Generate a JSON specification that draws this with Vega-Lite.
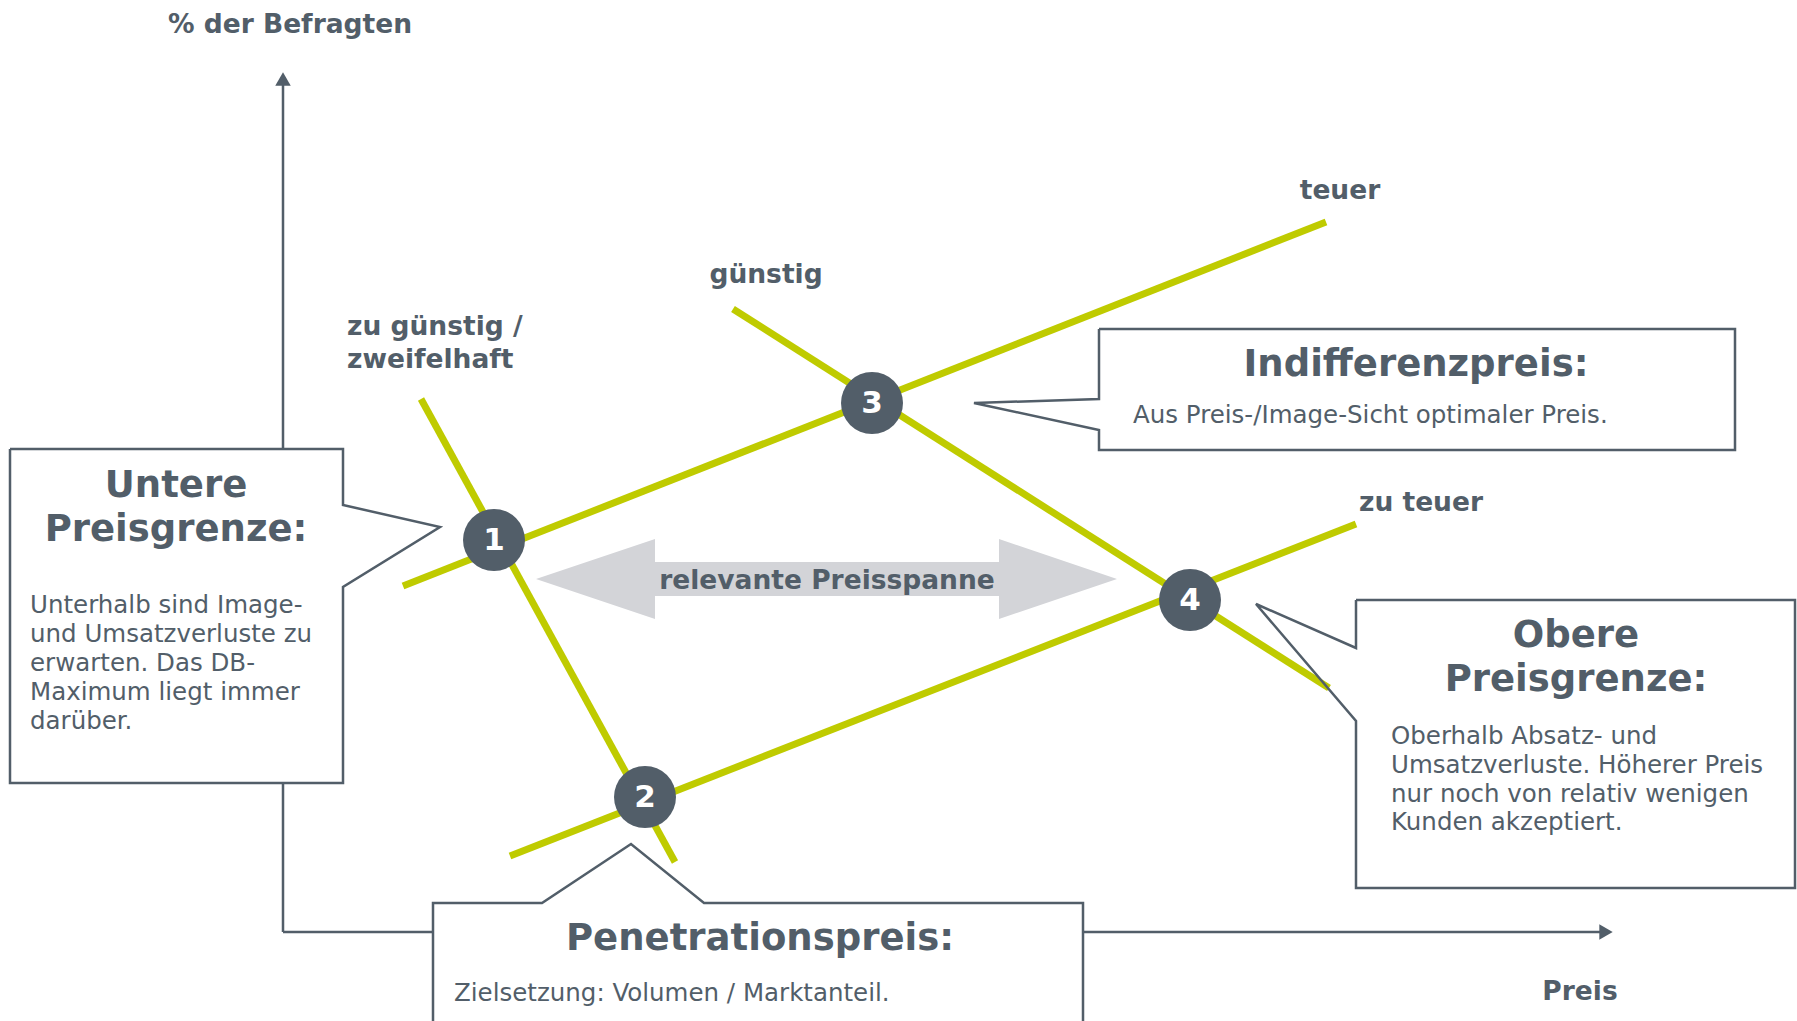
{
  "$schema": "https://vega.github.io/schema/vega-lite/v6.json",
  "width": 1797,
  "height": 1021,
  "padding": 0,
  "autosize": {"type": "none"},
  "background": "white",
  "config": {"view": {"stroke": null}, "font": "DejaVu Sans"},
  "datasets": {
    "axes": [
      {"axis": "Anteil", "x": 283, "y": 80, "x2": 283, "y2": 932},
      {"axis": "Preis", "x": 283, "y": 932, "x2": 1605, "y2": 932}
    ],
    "heads": [
      {"axis": "Anteil", "x": 283, "y": 79},
      {"axis": "Preis", "x": 1606, "y": 932}
    ],
    "curves": [
      {"curve": "teuer", "x": 403, "y": 586},
      {"curve": "teuer", "x": 1326, "y": 222},
      {"curve": "zu günstig", "x": 421, "y": 399},
      {"curve": "zu günstig", "x": 675, "y": 862},
      {"curve": "günstig", "x": 733, "y": 309},
      {"curve": "günstig", "x": 1329, "y": 688},
      {"curve": "zu teuer", "x": 510, "y": 856},
      {"curve": "zu teuer", "x": 1356, "y": 524}
    ],
    "span": [
      {"x": 536, "y": 579, "y2": 579},
      {"x": 655, "y": 539, "y2": 619},
      {"x": 655, "y": 562, "y2": 596},
      {"x": 999, "y": 562, "y2": 596},
      {"x": 999, "y": 539, "y2": 619},
      {"x": 1117, "y": 579, "y2": 579}
    ],
    "boxes": [
      {"box": "Untere", "x": 10, "x2": 343, "y": 449, "y2": 783},
      {"box": "Indifferenz", "x": 1099, "x2": 1735, "y": 329, "y2": 450},
      {"box": "Obere", "x": 1356, "x2": 1795, "y": 600, "y2": 888},
      {"box": "Penetration", "x": 433, "x2": 1083, "y": 903, "y2": 1040}
    ],
    "outlines": [
      {"box": "Untere", "i": 1, "x": 10, "y": 449},
      {"box": "Untere", "i": 2, "x": 343, "y": 449},
      {"box": "Untere", "i": 3, "x": 343, "y": 505},
      {"box": "Untere", "i": 4, "x": 440, "y": 527},
      {"box": "Untere", "i": 5, "x": 343, "y": 587},
      {"box": "Untere", "i": 6, "x": 343, "y": 783},
      {"box": "Untere", "i": 7, "x": 10, "y": 783},
      {"box": "Untere", "i": 8, "x": 10, "y": 449},
      {"box": "Indifferenz", "i": 1, "x": 1099, "y": 329},
      {"box": "Indifferenz", "i": 2, "x": 1735, "y": 329},
      {"box": "Indifferenz", "i": 3, "x": 1735, "y": 450},
      {"box": "Indifferenz", "i": 4, "x": 1099, "y": 450},
      {"box": "Indifferenz", "i": 5, "x": 1099, "y": 430},
      {"box": "Indifferenz", "i": 6, "x": 974, "y": 403},
      {"box": "Indifferenz", "i": 7, "x": 1099, "y": 399},
      {"box": "Indifferenz", "i": 8, "x": 1099, "y": 329},
      {"box": "Obere", "i": 1, "x": 1356, "y": 600},
      {"box": "Obere", "i": 2, "x": 1795, "y": 600},
      {"box": "Obere", "i": 3, "x": 1795, "y": 888},
      {"box": "Obere", "i": 4, "x": 1356, "y": 888},
      {"box": "Obere", "i": 5, "x": 1356, "y": 721},
      {"box": "Obere", "i": 6, "x": 1256, "y": 604},
      {"box": "Obere", "i": 7, "x": 1356, "y": 648},
      {"box": "Obere", "i": 8, "x": 1356, "y": 600},
      {"box": "Penetration", "i": 1, "x": 433, "y": 1040},
      {"box": "Penetration", "i": 2, "x": 433, "y": 903},
      {"box": "Penetration", "i": 3, "x": 542, "y": 903},
      {"box": "Penetration", "i": 4, "x": 631, "y": 844},
      {"box": "Penetration", "i": 5, "x": 704, "y": 903},
      {"box": "Penetration", "i": 6, "x": 1083, "y": 903},
      {"box": "Penetration", "i": 7, "x": 1083, "y": 1040}
    ],
    "points": [
      {"n": "1", "x": 494, "y": 540},
      {"n": "2", "x": 645, "y": 797},
      {"n": "3", "x": 872, "y": 403},
      {"n": "4", "x": 1190, "y": 600}
    ],
    "texts": [
      {"kind": "label_c", "text": "% der Befragten", "x": 290, "y": 23},
      {"kind": "label_c", "text": "Preis", "x": 1580, "y": 990},
      {"kind": "label_c", "text": "teuer", "x": 1340, "y": 189},
      {"kind": "label_c", "text": "günstig", "x": 766, "y": 273},
      {"kind": "label_c", "text": "zu teuer", "x": 1421, "y": 501},
      {"kind": "label_c", "text": "relevante Preisspanne", "x": 827, "y": 579},
      {"kind": "label_l", "text": "zu günstig /", "x": 347, "y": 325},
      {"kind": "label_l", "text": "zweifelhaft", "x": 347, "y": 358},
      {"kind": "title", "text": "Untere", "x": 176, "y": 484},
      {"kind": "title", "text": "Preisgrenze:", "x": 176, "y": 528},
      {"kind": "title", "text": "Indifferenzpreis:", "x": 1416, "y": 363},
      {"kind": "title", "text": "Obere", "x": 1576, "y": 634},
      {"kind": "title", "text": "Preisgrenze:", "x": 1576, "y": 678},
      {"kind": "title", "text": "Penetrationspreis:", "x": 760, "y": 937},
      {"kind": "body", "text": "Unterhalb sind Image-", "x": 30, "y": 604},
      {"kind": "body", "text": "und Umsatzverluste zu", "x": 30, "y": 633},
      {"kind": "body", "text": "erwarten. Das DB-", "x": 30, "y": 662},
      {"kind": "body", "text": "Maximum liegt immer", "x": 30, "y": 691},
      {"kind": "body", "text": "darüber.", "x": 30, "y": 720},
      {"kind": "body", "text": "Aus Preis-/Image-Sicht optimaler Preis.", "x": 1133, "y": 414},
      {"kind": "body", "text": "Oberhalb Absatz- und", "x": 1391, "y": 735},
      {"kind": "body", "text": "Umsatzverluste. Höherer Preis", "x": 1391, "y": 764},
      {"kind": "body", "text": "nur noch von relativ wenigen", "x": 1391, "y": 793},
      {"kind": "body", "text": "Kunden akzeptiert.", "x": 1391, "y": 821},
      {"kind": "body", "text": "Zielsetzung: Volumen / Marktanteil.", "x": 454, "y": 992}
    ]
  },
  "layer": [
    {
      "data": {"name": "axes"},
      "mark": {"type": "rule", "color": "#525e69", "strokeWidth": 2.5},
      "encoding": {
        "x": {"field": "x", "type": "quantitative", "scale": {"domain": [0, 1797], "nice": false, "zero": false}, "axis": null},
        "y": {"field": "y", "type": "quantitative", "scale": {"domain": [0, 1021], "nice": false, "zero": false, "reverse": true}, "axis": null},
        "x2": {"field": "x2"},
        "y2": {"field": "y2"}
      }
    },
    {
      "data": {"name": "heads"},
      "mark": {"type": "point", "filled": true, "color": "#525e69", "size": 240, "opacity": 1},
      "encoding": {
        "x": {"field": "x", "type": "quantitative"},
        "y": {"field": "y", "type": "quantitative"},
        "shape": {"field": "axis", "type": "nominal", "scale": {"domain": ["Anteil", "Preis"], "range": ["triangle-up", "triangle-right"]}, "legend": null}
      }
    },
    {
      "data": {"name": "curves"},
      "mark": {"type": "line", "color": "#bfcb00", "strokeWidth": 7, "strokeCap": "butt"},
      "encoding": {
        "x": {"field": "x", "type": "quantitative"},
        "y": {"field": "y", "type": "quantitative"},
        "detail": {"field": "curve", "type": "nominal"}
      }
    },
    {
      "data": {"name": "span"},
      "mark": {"type": "area", "color": "#d3d4d8", "opacity": 1},
      "encoding": {
        "x": {"field": "x", "type": "quantitative"},
        "y": {"field": "y", "type": "quantitative", "stack": null},
        "y2": {"field": "y2"}
      }
    },
    {
      "data": {"name": "boxes"},
      "mark": {"type": "rect", "color": "white"},
      "encoding": {
        "x": {"field": "x", "type": "quantitative"},
        "x2": {"field": "x2"},
        "y": {"field": "y", "type": "quantitative"},
        "y2": {"field": "y2"}
      }
    },
    {
      "data": {"name": "outlines"},
      "mark": {"type": "line", "color": "#525e69", "strokeWidth": 2.5, "strokeJoin": "miter"},
      "encoding": {
        "x": {"field": "x", "type": "quantitative"},
        "y": {"field": "y", "type": "quantitative"},
        "detail": {"field": "box", "type": "nominal"},
        "order": {"field": "i", "type": "quantitative"}
      }
    },
    {
      "data": {"name": "points"},
      "mark": {"type": "point", "shape": "circle", "filled": true, "color": "#525e69", "size": 3844, "opacity": 1},
      "encoding": {
        "x": {"field": "x", "type": "quantitative"},
        "y": {"field": "y", "type": "quantitative"}
      }
    },
    {
      "data": {"name": "points"},
      "mark": {"type": "text", "color": "white", "fontSize": 31, "fontWeight": "bold", "align": "center", "baseline": "middle", "dy": 1},
      "encoding": {
        "x": {"field": "x", "type": "quantitative"},
        "y": {"field": "y", "type": "quantitative"},
        "text": {"field": "n"}
      }
    },
    {
      "data": {"name": "texts"},
      "transform": [{"filter": "datum.kind === 'label_c'"}],
      "mark": {"type": "text", "color": "#525e69", "fontSize": 26.5, "fontWeight": "bold", "align": "center", "baseline": "middle", "dy": 2},
      "encoding": {
        "x": {"field": "x", "type": "quantitative"},
        "y": {"field": "y", "type": "quantitative"},
        "text": {"field": "text"}
      }
    },
    {
      "data": {"name": "texts"},
      "transform": [{"filter": "datum.kind === 'label_l'"}],
      "mark": {"type": "text", "color": "#525e69", "fontSize": 26.5, "fontWeight": "bold", "align": "left", "baseline": "middle", "dy": 2},
      "encoding": {
        "x": {"field": "x", "type": "quantitative"},
        "y": {"field": "y", "type": "quantitative"},
        "text": {"field": "text"}
      }
    },
    {
      "data": {"name": "texts"},
      "transform": [{"filter": "datum.kind === 'title'"}],
      "mark": {"type": "text", "color": "#525e69", "fontSize": 37, "fontWeight": "bold", "align": "center", "baseline": "middle", "dy": 2},
      "encoding": {
        "x": {"field": "x", "type": "quantitative"},
        "y": {"field": "y", "type": "quantitative"},
        "text": {"field": "text"}
      }
    },
    {
      "data": {"name": "texts"},
      "transform": [{"filter": "datum.kind === 'body'"}],
      "mark": {"type": "text", "color": "#525e69", "fontSize": 24.5, "align": "left", "baseline": "middle", "dy": 2},
      "encoding": {
        "x": {"field": "x", "type": "quantitative"},
        "y": {"field": "y", "type": "quantitative"},
        "text": {"field": "text"}
      }
    }
  ]
}
